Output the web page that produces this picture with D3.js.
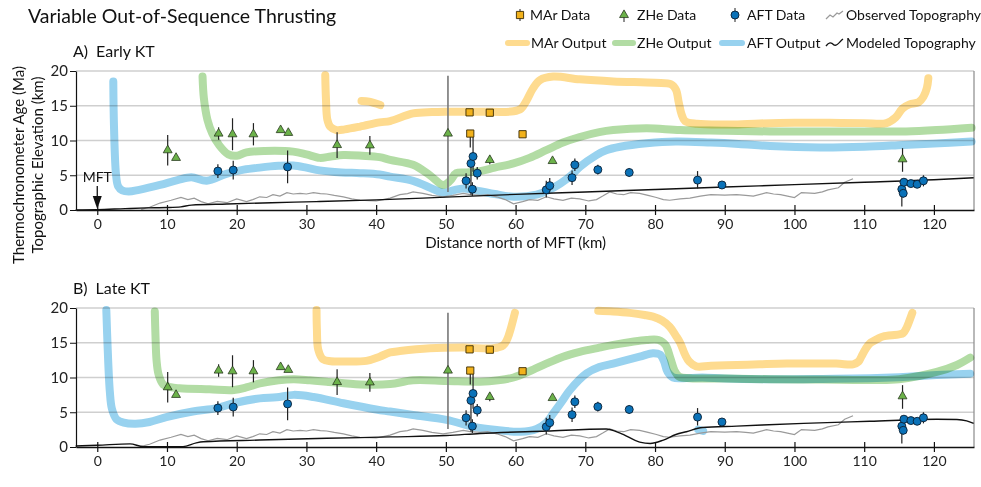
<!DOCTYPE html>
<html>
<head>
<meta charset="utf-8">
<script src="https://cdn.jsdelivr.net/npm/d3@7/dist/d3.min.js"></script>
<style>
  html, body { margin: 0; padding: 0; background: #fff; }
  svg { display: block; font-family: Lato, "Open Sans", sans-serif; }
  .out { fill: none; stroke-width: 8; stroke-linecap: round; stroke-linejoin: round; mix-blend-mode: multiply; }
</style>
</head>
<body>
<svg id="chart" width="981" height="487"></svg>
<script>
// ---- axis ticks ----
const xTicks = [0, 10, 20, 30, 40, 50, 60, 70, 80, 90, 100, 110, 120];
const yTicks = [0, 5, 10, 15, 20];

// ---- thermochronometer data (distance km, age Ma, age bounds) ----
const marDist = [53.4, 56.3, 53.5, 61.0];
const marAge  = [14.05, 14.0, 11.0, 10.9];
const marLow  = [14.05, 14.0, 9.0, 10.9];
const marHigh = [14.05, 14.0, 11.0, 10.9];

const zheDist = [10.1, 11.3, 17.4, 19.4, 22.4, 26.3, 27.4, 34.4, 39.1, 50.3, 56.3, 65.3, 115.5];
const zheAge  = [8.6, 7.5, 11.0, 10.9, 10.9, 11.5, 11.1, 9.35, 9.3, 11.0, 7.2, 7.05, 7.3];
const zheLow  = [6.4, 7.5, 10.1, 8.6, 9.3, 11.5, 11.1, 7.5, 7.95, 2.6, 6.6, 7.05, 5.5];
const zheHigh = [10.8, 7.5, 11.9, 13.2, 12.5, 11.5, 11.1, 11.2, 10.65, 19.3, 7.8, 7.05, 8.9];

const aftDist = [17.3, 19.5, 27.3, 52.9, 53.6, 53.9, 53.8, 54.5, 64.4, 64.9, 68.1, 68.5, 71.8, 76.3, 86.1, 89.6, 115.4, 115.6, 115.7, 116.7, 117.6, 118.5];
const aftAge  = [5.6, 5.75, 6.2, 4.2, 6.7, 7.7, 3.0, 5.3, 2.9, 3.5, 4.65, 6.5, 5.8, 5.4, 4.3, 3.6, 3.0, 2.4, 4.0, 3.8, 3.7, 4.2];
const aftLow  = [4.6, 4.4, 3.85, 3.1, 2.2, 5.5, 2.0, 4.4, 1.8, 2.7, 3.6, 5.6, 5.1, 4.8, 3.1, 3.2, 0.5, 1.8, 3.5, 3.4, 3.3, 3.4];
const aftHigh = [6.6, 7.1, 8.55, 5.3, 8.0, 10.5, 4.0, 6.2, 4.2, 4.6, 5.7, 7.4, 6.5, 6.0, 5.6, 4.0, 4.5, 3.0, 4.5, 4.2, 4.1, 5.0];

// ---- observed topography (distance km, elevation km), shared by both panels ----
const observedTopo = [[6.3,0.1],[7.5,0.4],[9,1.0],[10.6,1.4],[12,1.8],[13,1.5],[13.9,1.7],[14.9,1.2],[15.9,0.9],[17.2,1.25],[18.6,1.05],[20,1.6],[21.4,1.2],[22.3,1.5],[23.3,1.9],[24.3,1.8],[25.2,2.2],[26.2,2.0],[27.2,2.5],[28.1,2.3],[29.1,2.4],[30,2.3],[31,2.5],[32,2.35],[32.9,2.3],[34,2.1],[35.3,1.9],[36.5,1.6],[37.7,1.4],[39,1.35],[40,1.3],[41,1.5],[42,1.7],[43.4,2.2],[44.5,2.35],[45.3,2.6],[46.7,2.4],[48,2.1],[49.6,1.9],[51,2.1],[52.5,2.4],[53.5,2.2],[54.9,2.1],[56,2.2],[57.3,1.9],[58.5,1.5],[59.7,0.9],[61,1.2],[62,1.5],[63.2,1.4],[64.4,1.9],[65.5,1.6],[66.8,1.4],[68,1.7],[69.2,1.6],[70.5,1.3],[71.6,1.5],[72.5,2.0],[73.5,2.6],[74.5,2.3],[75.5,2.2],[76.5,2.5],[77.8,2.4],[79,2.1],[80.2,1.8],[81.2,1.5],[82.1,1.4],[83.6,1.6],[85,1.7],[86.5,2.0],[88,2.2],[90,2.15],[91.7,2.2],[93,2.1],[94.1,2.0],[96,2.5],[97,2.3],[98,2.2],[99,2.0],[100,1.8],[101,2.5],[102.9,2.4],[104,2.6],[104.8,2.9],[106.3,3.2],[107.2,4.0],[108.4,4.5]];

// ---- panel A: early KT model output ----
const earlyModelTopo = [[-3.1,0],[0,0.05],[4,0.2],[7,0.3],[10,0.35],[12,0.45],[13.5,0.7],[18.6,0.86],[25,1.05],[31.4,1.2],[40,1.45],[50,1.85],[60,2.25],[70,2.6],[80,2.95],[90,3.3],[100,3.65],[110,4.0],[120,4.35],[125.7,4.65]];
const earlyAftOut = [[2.3,18.5],[2.4,12],[2.7,5],[3.0,3.4],[3.6,2.8],[4.5,2.65],[6,2.9],[9,3.6],[11.5,4.3],[13.5,4.7],[15.7,4.2],[18.5,5.2],[21,5.8],[23.3,6.1],[26,6.35],[28.1,6.4],[30,6.1],[31.9,5.7],[35,5.4],[37.7,5.3],[40.5,5.1],[42,4.8],[45.3,4.2],[47.5,3.3],[49.6,2.5],[51,2.8],[52.5,3.1],[54.9,2.7],[57,2.3],[59.7,1.9],[63,2.2],[64.8,2.9],[66.4,3.8],[68,5.0],[69.2,6.2],[71.6,7.9],[73,8.6],[75,9.1],[78.8,9.6],[83,9.85],[88,9.7],[92,9.5],[96.5,9.2],[103.7,9.0],[110,9.1],[115.6,9.35],[120,9.55],[125.4,9.85]];
const earlyZheOut = [[15.1,19.2],[15.3,16],[15.8,13],[16.5,11],[17.5,9.3],[18.8,8.0],[20,7.8],[21.4,8.3],[24,8.5],[28.1,8.4],[30,8.0],[31.9,7.5],[33.5,7.7],[35.3,7.9],[38,7.8],[40.5,7.6],[42,7.2],[45.3,6.5],[47.7,5.0],[49.6,3.6],[50.6,4.2],[51.5,5.3],[53,5.4],[54.9,5.6],[57,6.1],[59.7,6.7],[62,7.5],[64.4,8.6],[66.8,9.7],[69.2,10.5],[72,11.2],[74,11.5],[78.8,11.75],[83.6,11.5],[90,11.4],[96.5,11.3],[110.8,11.3],[116,11.3],[120.4,11.5],[125.4,11.85]];
const earlyMarOut = [[32.7,19.4],[32.8,16],[33.0,13],[33.4,12],[34.3,11.5],[35.5,11.6],[37.7,12],[40.5,12.6],[42,12.8],[45.3,13.9],[48,14.1],[50.1,14.15],[54.9,14.15],[59.7,14.2],[60.8,14.6],[61.6,15.8],[62.5,17.5],[63.5,18.7],[65.4,19.2],[69.2,18.8],[74,18.5],[80,18.3],[82.3,18.1],[83.0,17.3],[83.4,15.5],[83.8,13.8],[84.3,12.8],[86,12.4],[90.8,12.3],[95,12.45],[100,12.55],[105,12.55],[110,12.5],[113.2,12.5],[114.5,13.3],[115.5,14.6],[116.5,15.2],[117.8,15.5],[118.5,16.3],[119.0,17.6],[119.2,18.95]];
const earlyMarOutShort = [[37.9,15.7],[39,15.6],[40.6,15.1]];

// ---- panel B: late KT model output ----
const lateModelTopo = [[-3.1,0.15],[0,0.25],[4.7,0.45],[6.6,0.05],[12.3,0.05],[14.2,0.6],[15.2,0.75],[23.3,1.0],[32.9,1.25],[42,1.45],[50.1,1.65],[54.9,1.95],[64.4,2.3],[73,2.6],[75,2.0],[77.8,0.7],[79.3,0.5],[81.2,1.0],[83,1.8],[84.5,2.2],[86.8,2.8],[91.7,3.0],[101.3,3.4],[110.8,3.7],[120.4,4.0],[123.3,3.95],[124.7,3.75],[125.7,3.4]];
const lateAftOut = [[1.3,19.7],[1.5,14],[1.8,8],[2.1,5.5],[2.75,4.0],[3.8,3.5],[5.5,3.35],[7.5,3.6],[9.9,4.3],[13.7,5.1],[17.1,5.6],[20,6.4],[23.3,7.0],[25.7,7.15],[28.2,7.5],[31,7.2],[35.3,6.3],[40,5.4],[42,5.1],[45.3,4.6],[50.1,3.9],[54,2.9],[57.3,2.45],[60.7,2.2],[63,2.6],[64.4,3.5],[65.4,4.85],[66.6,6.5],[67.8,8.2],[70.2,10.6],[72,11.5],[74,12.0],[77.8,13.0],[79.7,13.5],[80.7,13.3],[81.3,12.3],[81.8,10.8],[82.6,10.0],[84,9.9],[86.8,10.0],[90,9.85],[96.5,9.75],[104,9.8],[110.8,9.9],[115,10.05],[120.4,10.35],[125.2,10.55]];
const lateAftOutShort = [[86.2,2.5],[86.9,2.3]];
const lateZheOut = [[8.25,19.5],[8.35,16],[8.5,12.5],[8.8,10.4],[9.45,9.0],[10.5,8.6],[11.8,8.45],[16.1,8.3],[19.6,8.2],[21.5,8.6],[23.3,9.15],[26,9.6],[28.2,9.75],[30.5,9.6],[32.9,9.4],[37.7,9.0],[42,9.05],[45.3,9.6],[50.1,9.5],[54.9,9.4],[57.5,9.6],[59.7,10.0],[62,10.9],[64.4,12.0],[66.8,13.0],[69.2,13.7],[72,14.3],[74,14.7],[78.8,15.4],[80.5,15.4],[81.5,14.7],[82.2,12.8],[82.8,11.0],[83.5,10.1],[85,9.9],[90,9.85],[96.5,9.75],[104,9.7],[110.8,9.65],[115,9.75],[120.4,10.8],[123.3,11.8],[125.2,12.85]];
const lateMarOut = [[31.45,19.7],[31.5,17],[31.7,14],[32.4,12.6],[33.5,12.35],[35.3,12.3],[38.6,12.4],[40.5,13.0],[42,13.6],[43.4,13.8],[47.7,14.2],[52.5,14.3],[56.8,14.2],[58.2,14.6],[58.8,15.5],[59.3,17.0],[59.9,19.3]];
const lateMarOut2 = [[71.85,19.6],[74,19.5],[76.4,19.3],[78.5,19.0],[79.7,18.75],[81,18.2],[82.1,17.3],[83,16.0],[83.6,15.0],[84.3,13.3],[84.9,12.3],[85.9,11.6],[88,11.7],[91.7,11.8],[95,11.9],[98.9,12.0],[106,12.0],[108.4,11.9],[109.2,12.3],[109.6,13.0],[110.2,14.1],[110.8,14.9],[112,15.6],[112.7,15.9],[115,16.2],[115.6,16.4],[116.1,17.2],[116.5,18.2],[116.9,19.3]];

// ---- colours ----
const C = {
  marOut: "#fedb8f", zheOut: "#b2dca4", aftOut: "#98d2ef",
  mar: "#f2b21c", zhe: "#6cb24a", aft: "#0b72b8",
  obs: "#9a9a9a", grid: "#cfcfcf"
};

const svg = d3.select("#chart");
const x = d3.scaleLinear().domain([-3.05, 125.75]).range([76, 974]);

function zipData(d, a, lo, hi) {
  return d.map((v, i) => ({ d: v, a: a[i], lo: lo[i], hi: hi[i] }));
}
const marPts = zipData(marDist, marAge, marLow, marHigh);
const zhePts = zipData(zheDist, zheAge, zheLow, zheHigh);
const aftPts = zipData(aftDist, aftAge, aftLow, aftHigh);

const triPath = d3.symbol().type(d3.symbolTriangle).size(34)();
const sqPath = d3.symbol().type(d3.symbolSquare).size(52)();

function drawPanel(cfg) {
  const y = d3.scaleLinear().domain([0, 20]).range([cfg.bottom, cfg.bottom - 139]);
  const g = svg.append("g");

  // horizontal grid
  g.append("g").selectAll("line").data(yTicks.filter(t => t > 0)).join("line")
    .attr("x1", x.range()[0]).attr("x2", x.range()[1])
    .attr("y1", d => y(d)).attr("y2", d => y(d))
    .attr("stroke", C.grid).attr("stroke-width", 1.3);
  // right frame
  g.append("line").attr("x1", x.range()[1]).attr("x2", x.range()[1])
    .attr("y1", y(0)).attr("y2", y(20)).attr("stroke", "#8a8a8a").attr("stroke-width", 1.2);

  const line = d3.line().x(d => x(d[0])).y(d => y(d[1])).curve(d3.curveCatmullRom.alpha(0.5));
  const lineLin = d3.line().x(d => x(d[0])).y(d => y(d[1]));

  // model output bands
  cfg.outputs.forEach(o => {
    g.append("path").attr("class", "out").attr("d", line(o.data)).attr("stroke", o.color);
  });

  // topography
  g.append("path").attr("d", lineLin(observedTopo)).attr("fill", "none")
    .attr("stroke", C.obs).attr("stroke-width", 1.2);
  g.append("path").attr("d", d3.line().x(d => x(d[0])).y(d => y(d[1])).curve(d3.curveMonotoneX)(cfg.modelTopo))
    .attr("fill", "none").attr("stroke", "#111").attr("stroke-width", 1.4);

  // axes
  const ax = g.append("g").attr("transform", `translate(0,${y(0)})`)
    .call(d3.axisBottom(x).tickValues(xTicks).tickSize(5).tickPadding(4).tickSizeOuter(0));
  ax.select(".domain").attr("stroke", "#111").attr("stroke-width", 1.4);
  ax.selectAll(".tick line").attr("y1", -5).attr("stroke", "#111").attr("stroke-width", 1.2);
  ax.selectAll(".tick text").attr("font-size", 14).attr("fill", "#222").attr("font-family", "Lato, sans-serif");

  const ay = g.append("g").attr("transform", `translate(${x.range()[0]},0)`)
    .call(d3.axisLeft(y).tickValues(yTicks).tickSize(6).tickPadding(2).tickSizeOuter(0));
  ay.select(".domain").attr("stroke", "#111").attr("stroke-width", 1.2);
  ay.selectAll(".tick line").attr("stroke", "#111");
  ay.selectAll(".tick text").attr("font-size", 15).attr("fill", "#222").attr("font-family", "Lato, sans-serif");

  // error bars
  const allPts = [].concat(zhePts, marPts, aftPts).filter(p => p.hi > p.lo);
  g.append("g").selectAll("line").data(allPts).join("line")
    .attr("x1", p => x(p.d)).attr("x2", p => x(p.d))
    .attr("y1", p => y(p.lo)).attr("y2", p => y(p.hi))
    .attr("stroke", p => (p.hi - p.lo) > 10 ? "#777" : "#222")
    .attr("stroke-width", p => (p.hi - p.lo) > 10 ? 1.6 : 1.2);

  // markers
  g.append("g").selectAll("path").data(zhePts).join("path")
    .attr("d", triPath).attr("transform", p => `translate(${x(p.d)},${y(p.a)})`)
    .attr("fill", C.zhe).attr("stroke", "#2a3a20").attr("stroke-width", 0.8);
  g.append("g").selectAll("path").data(marPts).join("path")
    .attr("d", sqPath).attr("transform", p => `translate(${x(p.d)},${y(p.a)})`)
    .attr("fill", C.mar).attr("stroke", "#3a2a00").attr("stroke-width", 0.9);
  g.append("g").selectAll("circle").data(aftPts).join("circle")
    .attr("cx", p => x(p.d)).attr("cy", p => y(p.a)).attr("r", 4)
    .attr("fill", C.aft).attr("stroke", "#0a1f33").attr("stroke-width", 0.9);

  // panel label
  svg.append("text").attr("x", 73).attr("y", cfg.bottom - 153)
    .attr("font-size", 16).attr("fill", "#111").text(cfg.label);

  return { y, ax };
}

const A = drawPanel({
  bottom: 210, label: "A)\u2002Early KT", modelTopo: earlyModelTopo,
  outputs: [
    { data: earlyMarOut, color: C.marOut }, { data: earlyMarOutShort, color: C.marOut },
    { data: earlyZheOut, color: C.zheOut }, { data: earlyAftOut, color: C.aftOut }
  ]
});
const B = drawPanel({
  bottom: 447, label: "B)\u2002Late KT", modelTopo: lateModelTopo,
  outputs: [
    { data: lateMarOut, color: C.marOut }, { data: lateMarOut2, color: C.marOut },
    { data: lateZheOut, color: C.zheOut }, { data: lateAftOut, color: C.aftOut },
    { data: lateAftOutShort, color: C.aftOut }
  ]
});

// MFT marker in panel A
svg.append("text").attr("x", x(0)).attr("y", 182).attr("text-anchor", "middle")
  .attr("font-size", 14).attr("fill", "#111").text("MFT");
svg.append("line").attr("x1", x(0)).attr("x2", x(0)).attr("y1", 186).attr("y2", 200)
  .attr("stroke", "#111").attr("stroke-width", 1.3);
svg.append("path").attr("d", `M${x(0) - 4.5},196 L${x(0) + 4.5},196 L${x(0)},${A.y(0) - 1} Z`).attr("fill", "#111");

// axis titles
svg.append("text").attr("x", x(60)).attr("y", 248).attr("text-anchor", "middle")
  .attr("font-size", 15).attr("fill", "#111").text("Distance north of MFT (km)");
svg.append("text").attr("transform", "translate(24,165) rotate(-90)").attr("text-anchor", "middle")
  .attr("font-size", 15).attr("fill", "#111").text("Thermochronometer Age (Ma)");
svg.append("text").attr("transform", "translate(43,165) rotate(-90)").attr("text-anchor", "middle")
  .attr("font-size", 15).attr("fill", "#111").text("Topographic Elevation (km)");

// title
svg.append("text").attr("x", 28).attr("y", 23).attr("font-size", 19.5).attr("fill", "#111")
  .text("Variable Out-of-Sequence Thrusting");

// legend
const lg = svg.append("g").attr("font-size", 14).attr("fill", "#111");
const r1 = 15, r2 = 43;
lg.append("line").attr("x1", 520).attr("x2", 520).attr("y1", r1 - 6).attr("y2", r1 + 6).attr("stroke", "#222");
lg.append("path").attr("d", sqPath).attr("transform", `translate(520,${r1})`).attr("fill", C.mar).attr("stroke", "#3a2a00").attr("stroke-width", 0.9);
lg.append("text").attr("x", 530).attr("y", r1 + 5).text("MAr Data");
lg.append("line").attr("x1", 624).attr("x2", 624).attr("y1", r1 - 4).attr("y2", r1 + 7).attr("stroke", "#222");
lg.append("path").attr("d", triPath).attr("transform", `translate(624,${r1})`).attr("fill", C.zhe).attr("stroke", "#2a3a20").attr("stroke-width", 0.8);
lg.append("text").attr("x", 637).attr("y", r1 + 5).text("ZHe Data");
lg.append("line").attr("x1", 735).attr("x2", 735).attr("y1", r1 - 7).attr("y2", r1 + 7).attr("stroke", "#222");
lg.append("circle").attr("cx", 735).attr("cy", r1).attr("r", 4).attr("fill", C.aft).attr("stroke", "#0a1f33").attr("stroke-width", 0.9);
lg.append("text").attr("x", 747).attr("y", r1 + 5).text("AFT Data");
lg.append("path").attr("d", `M826,${r1 + 4} L830,${r1} L833,${r1 + 2} L837,${r1 - 2} L839,${r1 - 1} L843,${r1 - 4}`)
  .attr("fill", "none").attr("stroke", C.obs).attr("stroke-width", 1.2);
lg.append("text").attr("x", 846).attr("y", r1 + 5).text("Observed Topography");

[[508, 527, C.marOut, 531, "MAr Output"], [615, 633, C.zheOut, 637, "ZHe Output"], [722, 742, C.aftOut, 747, "AFT Output"]]
  .forEach(([a, b, c, tx, t]) => {
    lg.append("line").attr("x1", a).attr("x2", b).attr("y1", r2).attr("y2", r2)
      .attr("stroke", c).attr("stroke-width", 6).attr("stroke-linecap", "round");
    lg.append("text").attr("x", tx).attr("y", r2 + 5).text(t);
  });
lg.append("path").attr("d", `M826,${r2 + 3} C829,${r2 - 1} 831,${r2 - 1} 834,${r2 + 2} C837,${r2 + 4} 840,${r2 - 2} 843,${r2 - 4}`)
  .attr("fill", "none").attr("stroke", "#111").attr("stroke-width", 1.4);
lg.append("text").attr("x", 846).attr("y", r2 + 5).text("Modeled Topography");
</script>
</body>
</html>
